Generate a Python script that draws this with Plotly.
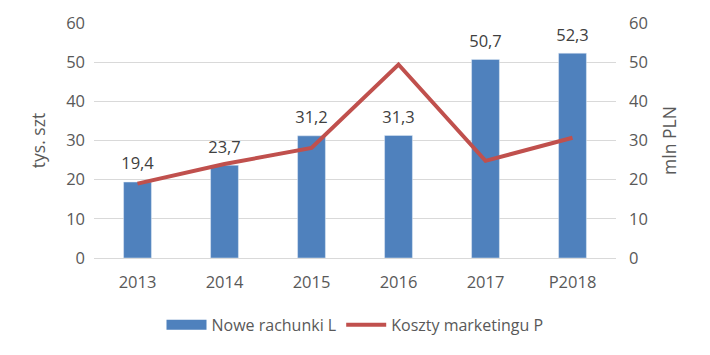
import plotly.graph_objects as go

categories = ["2013", "2014", "2015", "2016", "2017", "P2018"]
nowe_rachunki = [19.4, 23.7, 31.2, 31.3, 50.7, 52.3]
koszty_marketingu = [19.0, 24.0, 28.1, 49.4, 24.8, 30.7]
bar_labels = ["19,4", "23,7", "31,2", "31,3", "50,7", "52,3"]

font_family = "Open Sans, Liberation Sans, sans-serif"
blue = "#4F81BD"
red = "#C0504D"

fig = go.Figure()
fig.add_trace(go.Bar(
    x=categories, y=nowe_rachunki, name="Nowe rachunki L",
    marker_color=blue, width=0.32, showlegend=False,
))
# data labels above bars
fig.add_trace(go.Scatter(
    x=categories, y=nowe_rachunki, mode="markers+text", text=bar_labels,
    textposition="top center", showlegend=False, hoverinfo="skip",
    marker=dict(size=12, opacity=0),
    textfont=dict(size=16.5, color="#404040", family=font_family),
    cliponaxis=False,
))
# legend proxy for bar series (wide rectangle symbol)
fig.add_trace(go.Scatter(
    x=[None], y=[None], name="Nowe rachunki L", mode="lines",
    line=dict(color=blue, width=10), showlegend=True,
))
fig.add_trace(go.Scatter(
    x=categories, y=koszty_marketingu, name="Koszty marketingu P",
    mode="lines", line=dict(color=red, width=4),
    yaxis="y2",
))

fig.update_layout(
    width=710, height=355,
    margin=dict(l=94, r=94, t=23, b=97, autoexpand=False),
    plot_bgcolor="white", paper_bgcolor="white",
    font=dict(family=font_family, size=16, color="#595959"),
    showlegend=True,
    legend=dict(orientation="h", x=0.5, xanchor="center",
                yref="container", y=0.085, yanchor="middle",
                font=dict(size=16, color="#595959"), itemwidth=40,
                traceorder="normal"),
    xaxis=dict(showgrid=False, showline=False, ticks="", tickfont=dict(size=16.5),
               ticklabelstandoff=12),
    yaxis=dict(range=[0, 60], dtick=10, showgrid=True, gridcolor="#D9D9D9",
               zeroline=True, zerolinecolor="#D9D9D9", zerolinewidth=1,
               title=dict(text="tys. szt", font=dict(size=17.5), standoff=16),
               tickfont=dict(size=16.5), ticks="", ticklabelstandoff=8),
    yaxis2=dict(range=[0, 60], dtick=10, overlaying="y", side="right", showgrid=False,
                zeroline=False,
                title=dict(text="mln PLN", font=dict(size=17.5), standoff=16),
                tickfont=dict(size=16.5), ticks="", ticklabelstandoff=12),
)

fig.write_html("out.html")
